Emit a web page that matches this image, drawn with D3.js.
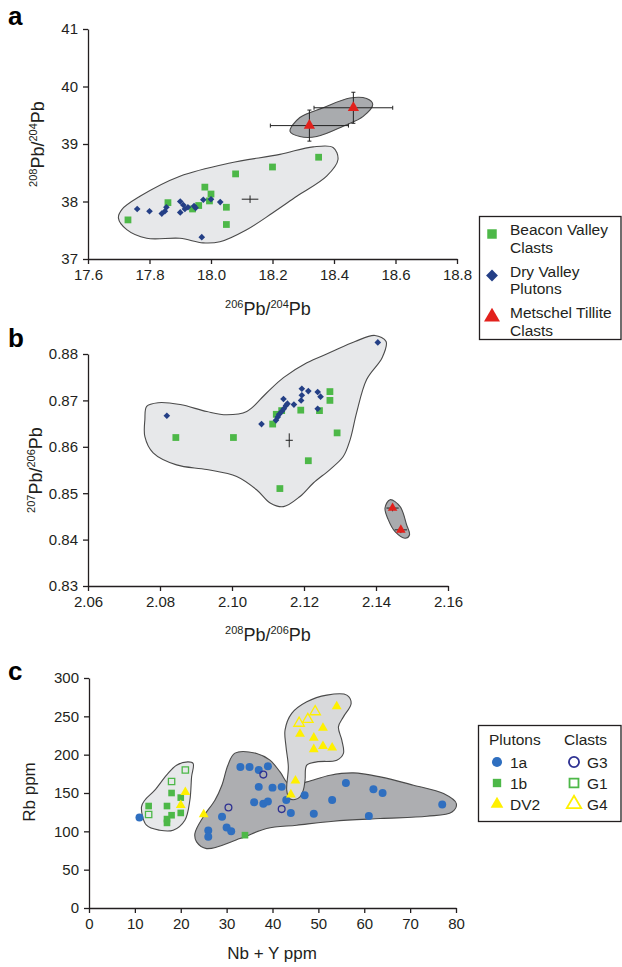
<!DOCTYPE html>
<html><head><meta charset="utf-8">
<script src="https://cdn.jsdelivr.net/npm/d3@7"></script>
<style>
body{margin:0;background:#fff;}
svg{font-family:"Liberation Sans", Arial, sans-serif;}
</style></head><body>
<div id="chart"></div>
<script>
// ---- panel a : 208Pb/204Pb vs 206Pb/204Pb
var beaconA = [[17.73,37.68],[17.86,37.98],[17.94,37.87],[17.96,37.93],[17.98,38.25],[18.00,38.13],[17.995,38.01],[18.05,37.90],[18.05,37.60],[18.08,38.48],[18.20,38.60],[18.35,38.77]];
var dryA = [[17.76,37.87],[17.80,37.83],[17.84,37.79],[17.85,37.83],[17.855,37.90],[17.90,37.81],[17.90,38.00],[17.91,37.94],[17.915,37.87],[17.925,37.90],[17.945,37.92],[17.95,37.89],[17.975,38.03],[18.00,38.04],[18.03,37.99],[17.97,37.38]];
var metschelA = [[18.32,39.32],[18.463,39.63]];
var metschelErrA = [[0.127,0.27],[0.128,0.27]];
var crossA = [18.127,38.04], crossErrA = [0.027,0.065];
var envA = [[17.699,37.71],[17.726,37.51],[17.791,37.36],[17.899,37.36],[17.974,37.28],[18.029,37.30],[18.116,37.51],[18.20,37.80],[18.279,38.09],[18.376,38.44],[18.413,38.73],[18.397,38.94],[18.332,38.95],[18.224,38.82],[18.062,38.67],[17.899,38.44],[17.769,38.09],[17.71,37.86]];
var envMetA = [[18.257,39.22],[18.289,39.13],[18.344,39.13],[18.43,39.31],[18.495,39.48],[18.526,39.69],[18.506,39.79],[18.452,39.80],[18.365,39.63],[18.289,39.46]];
var xTicksA = [17.6,17.8,18.0,18.2,18.4,18.6,18.8];
var yTicksA = [37,38,39,40,41];
var legendA = [["Beacon Valley","Clasts"],["Dry Valley","Plutons"],["Metschel Tillite","Clasts"]];

// ---- panel b : 207Pb/206Pb vs 208Pb/206Pb
var beaconB = [[2.0844,0.862],[2.1004,0.862],[2.1113,0.8649],[2.1123,0.867],[2.1138,0.8678],[2.1191,0.8679],[2.1243,0.8678],[2.1272,0.8719],[2.1272,0.870],[2.1292,0.863],[2.1212,0.857],[2.1133,0.851]];
var dryB = [[2.0819,0.8667],[2.1082,0.8649],[2.1122,0.8657],[2.1127,0.8664],[2.1131,0.867],[2.1138,0.8676],[2.1144,0.8682],[2.115,0.8689],[2.1154,0.8693],[2.1143,0.8703],[2.1172,0.8691],[2.1192,0.870],[2.1194,0.8711],[2.1194,0.8725],[2.1212,0.872],[2.1238,0.8718],[2.1246,0.8708],[2.1238,0.8682],[2.1405,0.8825]];
var metschelB = [[2.1446,0.8468],[2.1469,0.8421]];
var metschelErrB = [[0.0017,0.0007],[0.0017,0.0007]];
var crossB = [2.1159,0.8614], crossErrB = [0.001,0.0015];
var envB = [[2.0758,0.8659],[2.0763,0.8687],[2.0795,0.8695],[2.0856,0.8691],[2.093,0.8676],[2.0985,0.8669],[2.1041,0.8676],[2.1096,0.8716],[2.1143,0.8749],[2.1208,0.8781],[2.1272,0.8803],[2.1342,0.8827],[2.1397,0.884],[2.1428,0.8827],[2.1417,0.8792],[2.1374,0.8745],[2.1346,0.8673],[2.1328,0.8615],[2.1309,0.8579],[2.1272,0.8551],[2.1226,0.8522],[2.1189,0.8493],[2.1143,0.8471],[2.1106,0.8479],[2.1069,0.8507],[2.1013,0.8536],[2.093,0.8551],[2.0846,0.8561],[2.0781,0.8587],[2.0758,0.8622]];
var envMetB = [[2.1439,0.8486],[2.1425,0.8468],[2.1434,0.8443],[2.1453,0.8417],[2.1481,0.8403],[2.1493,0.841],[2.1485,0.8432],[2.1467,0.8471]];
var xTicksB = [2.06,2.08,2.10,2.12,2.14,2.16];
var yTicksB = [0.83,0.84,0.85,0.86,0.87,0.88];

// ---- panel c : Rb vs Nb + Y
var pl1a = [[11,118],[26,101],[26,93],[29,119],[30,105],[31,100],[33,184],[35,184],[37,180],[39,185],[37,158],[40,157],[42,158],[36,138],[38,136],[39,139],[43,141],[44,124],[47,147],[49,123],[53,141],[56,163],[61,120],[62,155],[64,150],[77,135]];
var pl1b = [[13,133],[17,133],[17,116],[17,111],[18,121],[18,150],[20,144],[20,124],[34,95]];
var plDV2 = [[21,151],[20,134],[25,122],[44,148],[45,166],[54,263],[51,235],[46,227],[49,222],[49,207],[51,211],[53,209]];
var clG3 = [[30.4,131],[38,174],[42,129]];
var clG1 = [[13,122],[18,165],[21,180]];
var clG4 = [[45.8,241],[47.7,246],[49.3,256]];
var envG1 = [[11.44,131.9],[12.53,108],[15.44,101.4],[18.34,101.4],[20.9,114.5],[21.99,140.6],[22.36,171],[22.7,188.5],[21.6,190.6],[19.08,186.3],[16.9,173.2],[14.35,153.7],[12.16,140.6]];
var env1a = [[24.89,118.8],[27.45,140.6],[28.97,160.2],[30.28,186.3],[31.81,202],[36.55,201.6],[39.45,192.8],[41.64,177.5],[43.83,160.2],[47.47,164.5],[52.55,173.2],[57.64,176.2],[63.47,171],[70.74,160.2],[77.29,149.3],[80.07,136.3],[79.13,125.3],[73.67,119.7],[63.47,116.7],[53.28,113.2],[45.28,108],[38.73,103.7],[32.9,90.6],[25.63,77.5],[23.45,86.2],[23.08,97.1]];
var envDV2 = [[43.67,142.8],[43.1,153.7],[43.45,184.1],[42.95,210.2],[42.73,232],[44.19,253.8],[47.47,268.9],[51.83,277.7],[56.2,277.7],[57.14,266.8],[55.46,249.3],[54.37,236.3],[55.11,218.9],[55.46,201.6],[54.02,192.8],[49.65,190.6],[47.47,186.3],[47.1,166.7],[46.72,153.7],[46,144.9],[44.9,141.5]];
var xTicksC = [0,10,20,30,40,50,60,70,80];
var yTicksC = [0,50,100,150,200,250,300];
var legendPlutons = ["1a","1b","DV2"];
var legendClasts = ["G3","G1","G4"];

var GREEN = "#4db848", NAVY = "#243f86", RED = "#e2211c", BLUE = "#2f6fc0", YELLOW = "#fff000", INK = "#231f20";

var svg = d3.select("#chart").append("svg").attr("width", 622).attr("height", 967);

function axes(g, x, y, xt, yt, xf, yf) {
    var ax = g.append("g").attr("transform", "translate(0," + y.range()[0] + ")")
        .call(d3.axisBottom(x).tickValues(xt).tickFormat(xf).tickSize(5).tickSizeOuter(0).tickPadding(5));
    var ay = g.append("g").attr("transform", "translate(" + x.range()[0] + ",0)")
        .call(d3.axisLeft(y).tickValues(yt).tickFormat(yf).tickSize(5).tickSizeOuter(0).tickPadding(5));
    [ax, ay].forEach(function (a) {
        a.selectAll("path,line").attr("stroke", INK).attr("stroke-width", 1.3);
        a.selectAll("text").attr("fill", INK).style("font-size", "15px");
    });
}

function envelope(g, x, y, pts, fill) {
    var line = d3.line().x(function (d) { return x(d[0]); }).y(function (d) { return y(d[1]); })
        .curve(d3.curveCatmullRomClosed.alpha(0.5));
    g.append("path").attr("d", line(pts)).attr("fill", fill).attr("stroke", "#4a4a4a").attr("stroke-width", 1.1);
}

function marks(g, x, y, pts, type, size, fill, stroke, rot) {
    g.selectAll(null).data(pts).enter().append("path")
        .attr("d", d3.symbol().type(type).size(size))
        .attr("transform", function (d) { return "translate(" + x(d[0]) + "," + y(d[1]) + ")" + (rot ? " rotate(" + rot + ")" : ""); })
        .attr("fill", fill).attr("stroke", stroke || "none").attr("stroke-width", 1.3);
}

function errs(g, x, y, pts, e, cap) {
    pts.forEach(function (d, i) {
        var ex = e[i][0], ey = e[i][1];
        var segs = [[x(d[0] - ex), y(d[1]), x(d[0] + ex), y(d[1])], [x(d[0]), y(d[1] - ey), x(d[0]), y(d[1] + ey)]];
        if (cap) {
            segs.push([x(d[0] - ex), y(d[1]) - cap, x(d[0] - ex), y(d[1]) + cap]);
            segs.push([x(d[0] + ex), y(d[1]) - cap, x(d[0] + ex), y(d[1]) + cap]);
            segs.push([x(d[0]) - cap, y(d[1] - ey), x(d[0]) + cap, y(d[1] - ey)]);
            segs.push([x(d[0]) - cap, y(d[1] + ey), x(d[0]) + cap, y(d[1] + ey)]);
        }
        segs.forEach(function (s) {
            g.append("line").attr("x1", s[0]).attr("y1", s[1]).attr("x2", s[2]).attr("y2", s[3])
                .attr("stroke", "#222").attr("stroke-width", 1);
        });
    });
}

function isoTitle(g, tx, ty, a, b, rotate) {
    var t = g.append("text").attr("text-anchor", "middle").attr("fill", INK)
        .attr("transform", "translate(" + tx + "," + ty + ")" + (rotate ? " rotate(-90)" : ""));
    t.append("tspan").style("font-size", "11px").attr("dy", -7).text(a);
    t.append("tspan").style("font-size", "18px").attr("dy", 7).text("Pb/");
    t.append("tspan").style("font-size", "11px").attr("dy", -7).text(b);
    t.append("tspan").style("font-size", "18px").attr("dy", 7).text("Pb");
}

function panelLabel(t, px, py) {
    svg.append("text").attr("x", px).attr("y", py).text(t)
        .style("font-size", "26px").style("font-weight", "bold").attr("fill", "#000");
}

// ================= panel a
var xA = d3.scaleLinear().domain([17.6, 18.8]).range([88, 457]);
var yA = d3.scaleLinear().domain([37, 41]).range([259, 29]);
var gA = svg.append("g");
envelope(gA, xA, yA, envA, "#e7e8ea");
envelope(gA, xA, yA, envMetA, "#a9abae");
errs(gA, xA, yA, [crossA], [crossErrA], 0);
marks(gA, xA, yA, beaconA, d3.symbolSquare, 46, GREEN);
marks(gA, xA, yA, dryA, d3.symbolSquare, 22, NAVY, null, 45);
errs(gA, xA, yA, metschelA, metschelErrA, 2);
marks(gA, xA, yA, metschelA, d3.symbolTriangle, 55, RED);
axes(gA, xA, yA, xTicksA, yTicksA, d3.format(".1f"), d3.format("d"));
isoTitle(gA, 268, 315, "206", "204", false);
isoTitle(gA, 44, 144, "208", "204", true);
panelLabel("a", 8, 25);

// legend a
var lgA = svg.append("g");
lgA.append("rect").attr("x", 479.5).attr("y", 216.5).attr("width", 141.5).attr("height", 123)
    .attr("fill", "#fff").attr("stroke", INK).attr("stroke-width", 1.3);
var symA = [[d3.symbolSquare, 90, GREEN, 0], [d3.symbolSquare, 70, NAVY, 45], [d3.symbolTriangle, 110, RED, 0]];
legendA.forEach(function (lines, i) {
    var cy = 230 + i * 41.5;
    lgA.append("path").attr("d", d3.symbol().type(symA[i][0]).size(symA[i][1]))
        .attr("transform", "translate(492," + (cy + 4) + ") rotate(" + symA[i][3] + ")").attr("fill", symA[i][2]);
    lines.forEach(function (s, j) {
        lgA.append("text").attr("x", 510).attr("y", cy + 5 + j * 17.5).text(s)
            .style("font-size", "15.5px").attr("fill", INK);
    });
});

// ================= panel b
var xB = d3.scaleLinear().domain([2.06, 2.16]).range([88, 448]);
var yB = d3.scaleLinear().domain([0.83, 0.88]).range([586, 354]);
var gB = svg.append("g");
envelope(gB, xB, yB, envB, "#e7e8ea");
envelope(gB, xB, yB, envMetB, "#a9abae");
errs(gB, xB, yB, [crossB], [crossErrB], 0);
marks(gB, xB, yB, beaconB, d3.symbolSquare, 46, GREEN);
marks(gB, xB, yB, dryB, d3.symbolSquare, 22, NAVY, null, 45);
errs(gB, xB, yB, metschelB, metschelErrB, 0);
marks(gB, xB, yB, metschelB, d3.symbolTriangle, 40, RED);
axes(gB, xB, yB, xTicksB, yTicksB, d3.format(".2f"), d3.format(".2f"));
isoTitle(gB, 268, 641, "208", "206", false);
isoTitle(gB, 42, 470, "207", "206", true);
panelLabel("b", 8, 347);

// ================= panel c
var xC = d3.scaleLinear().domain([0, 80]).range([89, 456]);
var yC = d3.scaleLinear().domain([0, 300]).range([908, 678]);
var gC = svg.append("g");
envelope(gC, xC, yC, envG1, "#e7e8ea");
envelope(gC, xC, yC, env1a, "#adaeb1");
envelope(gC, xC, yC, envDV2, "#d8d9db");
marks(gC, xC, yC, pl1a, d3.symbolCircle, 50, BLUE);
marks(gC, xC, yC, pl1b, d3.symbolSquare, 44, GREEN);
marks(gC, xC, yC, plDV2, d3.symbolTriangle, 42, YELLOW);
marks(gC, xC, yC, clG3, d3.symbolCircle, 36, "none", "#2e3192");
marks(gC, xC, yC, clG1, d3.symbolSquare, 40, "none", GREEN);
marks(gC, xC, yC, clG4, d3.symbolTriangle, 48, "none", YELLOW);
axes(gC, xC, yC, xTicksC, yTicksC, d3.format("d"), d3.format("d"));
gC.append("text").attr("x", 272).attr("y", 959).attr("text-anchor", "middle").text("Nb + Y ppm")
    .style("font-size", "17px").attr("fill", INK);
gC.append("text").attr("transform", "translate(35,792) rotate(-90)").attr("text-anchor", "middle").text("Rb ppm")
    .style("font-size", "17px").attr("fill", INK);
panelLabel("c", 8, 680);

// legend c
var lgC = svg.append("g");
lgC.append("rect").attr("x", 478.5).attr("y", 725.5).attr("width", 142.5).attr("height", 96)
    .attr("fill", "#fff").attr("stroke", INK).attr("stroke-width", 1.3);
lgC.append("text").attr("x", 489).attr("y", 745).text("Plutons").style("font-size", "15.5px").attr("fill", INK);
lgC.append("text").attr("x", 564).attr("y", 745).text("Clasts").style("font-size", "15.5px").attr("fill", INK);
var symP = [[d3.symbolCircle, 80, BLUE], [d3.symbolSquare, 70, GREEN], [d3.symbolTriangle, 70, YELLOW]];
var symCl = [[d3.symbolCircle, 80, "#2e3192"], [d3.symbolSquare, 80, GREEN], [d3.symbolTriangle, 90, YELLOW]];
legendPlutons.forEach(function (s, i) {
    var cy = 762 + i * 21;
    lgC.append("path").attr("d", d3.symbol().type(symP[i][0]).size(symP[i][1]))
        .attr("transform", "translate(497," + cy + ")").attr("fill", symP[i][2]);
    lgC.append("text").attr("x", 510).attr("y", cy + 5.5).text(s).style("font-size", "15.5px").attr("fill", INK);
    lgC.append("path").attr("d", d3.symbol().type(symCl[i][0]).size(symCl[i][1]))
        .attr("transform", "translate(574," + cy + ")").attr("fill", "none")
        .attr("stroke", symCl[i][2]).attr("stroke-width", 1.8);
    lgC.append("text").attr("x", 587).attr("y", cy + 5.5).text(legendClasts[i]).style("font-size", "15.5px").attr("fill", INK);
});
</script>
</body></html>
